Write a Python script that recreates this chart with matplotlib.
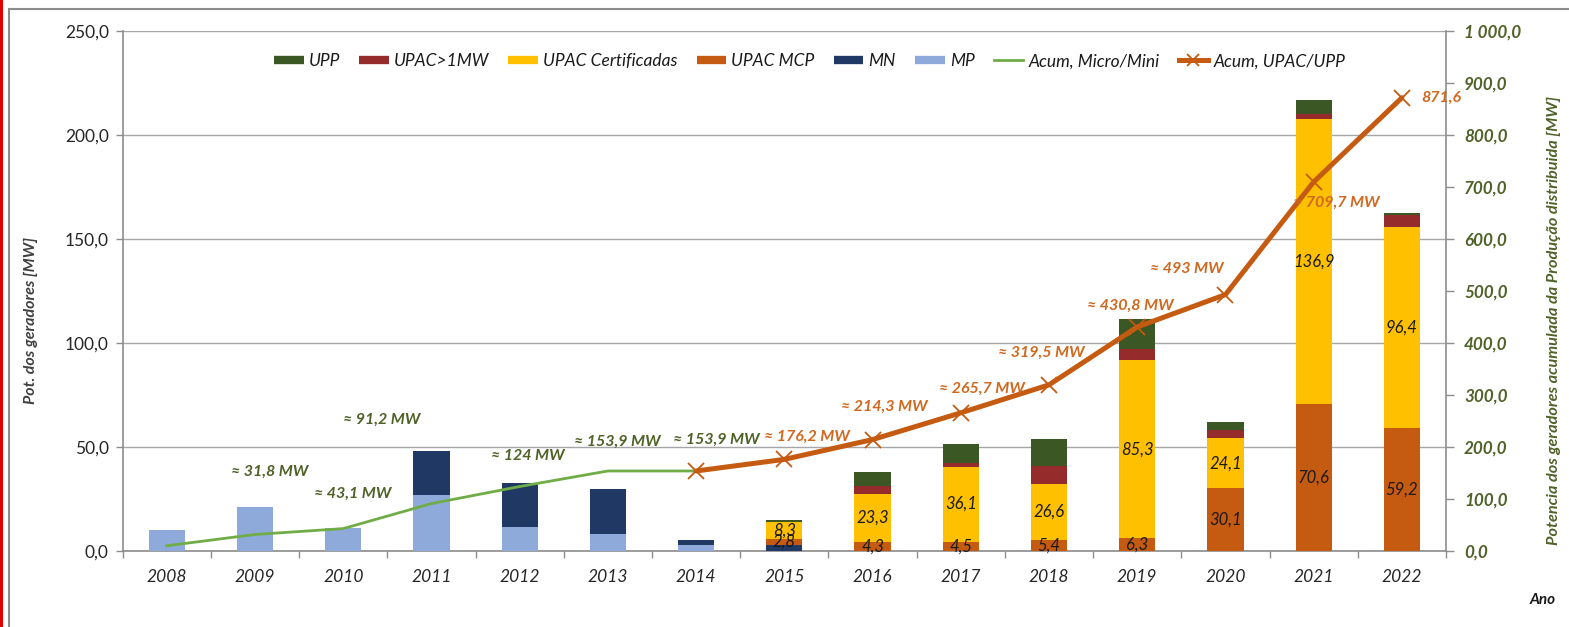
import numpy as np
import matplotlib
matplotlib.use("Agg")
import matplotlib.pyplot as plt
from matplotlib.lines import Line2D
from matplotlib.ticker import FuncFormatter, MultipleLocator

plt.rcParams['font.family'] = ['Lato', 'DejaVu Sans']

anos = ['2008', '2009', '2010', '2011', '2012', '2013', '2014', '2015',
        '2016', '2017', '2018', '2019', '2020', '2021', '2022']

# potencia instalada por ano e tipo [MW]
mp = [10.1, 21.0, 11.0, 27.0, 11.4, 8.3, 3.0, 0, 0, 0, 0, 0, 0, 0, 0]
mn = [0, 0, 0, 21.1, 21.4, 21.6, 2.4, 2.9, 0, 0, 0, 0, 0, 0, 0]
upac_mcp = [0, 0, 0, 0, 0, 0, 0, 2.8, 4.3, 4.5, 5.4, 6.3, 30.1, 70.6, 59.2]
upac_cert = [0, 0, 0, 0, 0, 0, 0, 8.3, 23.3, 36.1, 26.6, 85.3, 24.1, 136.9, 96.4]
upac_1mw = [0, 0, 0, 0, 0, 0, 0, 0, 3.5, 1.8, 9.0, 5.4, 4.0, 2.8, 5.9]
upp = [0, 0, 0, 0, 0, 0, 0, 1.1, 7.0, 9.0, 12.8, 14.3, 4.0, 6.7, 0.9]

# potencia acumulada [MW]
acum_micro_mini = [10.1, 31.8, 43.1, 91.2, 124.0, 153.9, 153.9]
acum_upac = [153.9, 176.2, 214.3, 265.7, 319.5, 430.8, 493.0, 709.7, 871.6]

labels_micro = ['≈ 31,8 MW', '≈ 43,1 MW', '≈ 91,2 MW', '≈ 124 MW',
                '≈ 153,9 MW', '≈ 153,9 MW']
labels_upac = ['≈ 176,2 MW', '≈ 214,3 MW', '≈ 265,7 MW', '≈ 319,5 MW',
               '≈ 430,8 MW', '≈ 493 MW', '≈ 709,7 MW', '871,6']

c_upp = '#3b5723'
c_1mw = '#962b2b'
c_cert = '#ffc000'
c_mcp = '#c55a11'
c_mn = '#1f3864'
c_mp = '#8eaadb'
c_micro = '#70ad47'
c_verde_txt = '#4f6228'
c_laranja_txt = '#d0691f'
c_cinza = '#8c8c8c'

fig = plt.figure(figsize=(15.69, 6.27), dpi=100)
ax = fig.add_axes([0.0782, 0.1212, 0.8434, 0.8294])
ax2 = ax.twinx()

x = np.arange(len(anos))
w = 0.41
series = [(mp, c_mp), (mn, c_mn), (upac_mcp, c_mcp), (upac_cert, c_cert),
          (upac_1mw, c_1mw), (upp, c_upp)]
base = np.zeros(len(anos))
for vals, cor in series:
    v = np.array(vals)
    ax.bar(x, v, w, bottom=base, color=cor, zorder=3, linewidth=0)
    base += v

# valores dentro das barras
def fmt(v):
    return f'{v:.1f}'.replace('.', ',')

base_mcp = np.array(mp) + np.array(mn)
for i in range(len(anos)):
    if upac_mcp[i] > 0:
        ax.text(i, base_mcp[i] + upac_mcp[i] / 2, fmt(upac_mcp[i]), ha='center',
                va='center', fontsize=12, style='italic', color='#1a1a1a', zorder=5)
    if upac_cert[i] > 0:
        ax.text(i, base_mcp[i] + upac_mcp[i] + upac_cert[i] / 2, fmt(upac_cert[i]),
                ha='center', va='center', fontsize=12, style='italic',
                color='#1a1a1a', zorder=5)

ax.set_xlim(-0.5, len(anos) - 0.5)
ax.set_ylim(0, 250)
ax.yaxis.set_major_locator(MultipleLocator(50))
ax.yaxis.set_major_formatter(FuncFormatter(lambda v, p: fmt(v)))
ax.grid(axis='y', color='#a6a6a6', linewidth=1.0, zorder=0)
ax.set_axisbelow(True)
ax.set_xticks(x)
ax.set_xticklabels(anos, fontsize=12.5, style='italic', color='#262626')
ax.set_xticks(np.arange(len(anos) + 1) - 0.5, minor=True)
ax.tick_params(axis='x', which='major', length=0, pad=13)
ax.tick_params(axis='x', which='minor', length=5, color=c_cinza, width=1)
ax.tick_params(axis='y', length=5, color=c_cinza, width=1, pad=5,
               labelsize=12.5, labelcolor='#262626')
for s in ['left', 'bottom']:
    ax.spines[s].set_color(c_cinza)
    ax.spines[s].set_linewidth(1.2)
ax.spines['top'].set_visible(False)
ax.spines['right'].set_visible(False)
ax.set_ylabel('Pot. dos geradores [MW]', fontsize=11.5, style='italic',
              fontweight='bold', color='#404040')
ax.yaxis.set_label_coords(-0.064, 0.443)

# eixo secundario: acumulados
ax2.plot(x[:7], acum_micro_mini, color=c_micro, lw=2.0, zorder=4)
ax2.plot(x[6:], acum_upac, color=c_mcp, lw=3.6, marker='x', markersize=11,
         markeredgewidth=1.3, zorder=4, solid_capstyle='round')
ax2.set_ylim(0, 1000)
ax2.yaxis.set_major_locator(MultipleLocator(100))
ax2.yaxis.set_major_formatter(FuncFormatter(
    lambda v, p: f'{v:,.1f}'.replace(',', ' ').replace('.', ',')))
ax2.tick_params(axis='y', length=6, color=c_cinza, width=1, pad=7,
                labelsize=12.3, labelcolor=c_verde_txt)
for t in ax2.get_yticklabels():
    t.set_fontstyle('italic')
    t.set_fontweight('bold')
ax2.spines['right'].set_color(c_cinza)
ax2.spines['right'].set_linewidth(1.2)
for s in ['left', 'top', 'bottom']:
    ax2.spines[s].set_visible(False)
ax2.set_ylabel('Potencia dos geradores acumulada da Produção distribuida [MW]',
               fontsize=11.7, style='italic', fontweight='bold', color=c_verde_txt)
ax2.yaxis.set_label_coords(1.0763, 0.443)

# rotulos dos acumulados (deslocamento em pixels)
off_micro = [(15, 63), (9, 35), (-50, 84), (8, 31), (9, 29), (20, 31)]
for k, (txt, (dx, dy)) in enumerate(zip(labels_micro, off_micro)):
    i = k + 1
    ax2.annotate(txt, (x[i], acum_micro_mini[i]), xytext=(dx, dy),
                 textcoords='offset pixels', ha='center', va='center',
                 fontsize=11.5, style='italic', fontweight='bold',
                 color=c_verde_txt, zorder=6)
off_upac = [(23, 23), (12, 33), (21, 24), (-8, 32), (-7, 21), (-39, 26),
            (23, -21), (39, 0)]
for k, (txt, (dx, dy)) in enumerate(zip(labels_upac, off_upac)):
    i = k + 1
    ax2.annotate(txt, (x[6 + i], acum_upac[i]), xytext=(dx, dy),
                 textcoords='offset pixels', ha='center', va='center',
                 fontsize=11.5, style='italic', fontweight='bold',
                 color=c_laranja_txt, zorder=6)

handles = [
    Line2D([], [], color=c_upp, lw=6, solid_capstyle='butt'),
    Line2D([], [], color=c_1mw, lw=6, solid_capstyle='butt'),
    Line2D([], [], color=c_cert, lw=6, solid_capstyle='butt'),
    Line2D([], [], color=c_mcp, lw=6, solid_capstyle='butt'),
    Line2D([], [], color=c_mn, lw=6, solid_capstyle='butt'),
    Line2D([], [], color=c_mp, lw=6, solid_capstyle='butt'),
    Line2D([], [], color=c_micro, lw=2.0),
    Line2D([], [], color=c_mcp, lw=3.6, marker='x', markersize=9,
           markeredgewidth=1.3),
]
names = ['UPP', 'UPAC>1MW', 'UPAC Certificadas', 'UPAC MCP', 'MN', 'MP',
         'Acum, Micro/Mini', 'Acum, UPAC/UPP']
leg = fig.legend(handles, names, loc='center', bbox_to_anchor=(0.516, 0.902),
                 ncol=8, frameon=False, handlelength=1.7, handletextpad=0.3,
                 columnspacing=1.1, prop={'size': 12.5, 'style': 'italic'})
for t in leg.get_texts():
    t.set_color('#1a1a1a')

fig.text(1543 / 1569, 1 - 600 / 627, 'Ano', ha='center', va='center',
         fontsize=11, style='italic', fontweight='bold', color='#1a1a1a')

# moldura
W, H = 1569, 627
fig.add_artist(Line2D([9 / W, 9 / W], [0, 1 - 8.5 / H], color='#8c8c8c', lw=1.5))
fig.add_artist(Line2D([9 / W, 1], [1 - 8.5 / H, 1 - 8.5 / H], color='#8c8c8c', lw=1.5))
fig.add_artist(Line2D([1 / W, 1 / W], [0, 1], color='#e00000', lw=2.2))

fig.savefig('out.png', dpi=100)
